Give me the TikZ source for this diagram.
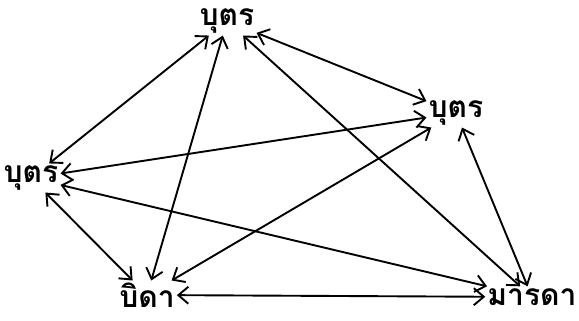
\documentclass[tikz,border=0pt]{standalone}
\usepackage{fontspec}
\newfontfamily\thaifont[Script=Thai]{Loma}
\usetikzlibrary{arrows.meta}
\begin{document}
\begin{tikzpicture}[x=1pt, y=-1pt,
    kin/.style={font=\thaifont\bfseries\fontsize{30}{36}\selectfont, inner sep=2pt},
    link/.style={{Straight Barb[length=10pt,width=17pt]}-{Straight Barb[length=10pt,width=17pt]}, line width=1.9pt}]
    \useasboundingbox (0,0) rectangle (579,321);

    % Vertices
    \node[kin] (sontop) at (227,21) {บุตร};
    \node[kin] (sonright) at (456,113) {บุตร};
    \node[kin] (sonleft) at (31,178) {บุตร};
    \node[kin] (father) at (147,295) {บิดา};
    \node[kin] (mother) at (532,297) {มารดา};

    % Relations
    \foreach \a/\b in {sontop/sonleft, sontop/sonright, sontop/father, sontop/mother,
        sonleft/sonright, sonleft/mother, sonleft/father,
        sonright/father, sonright/mother, father/mother}
        \draw[link] (\a) -- (\b);
\end{tikzpicture}
\end{document}
